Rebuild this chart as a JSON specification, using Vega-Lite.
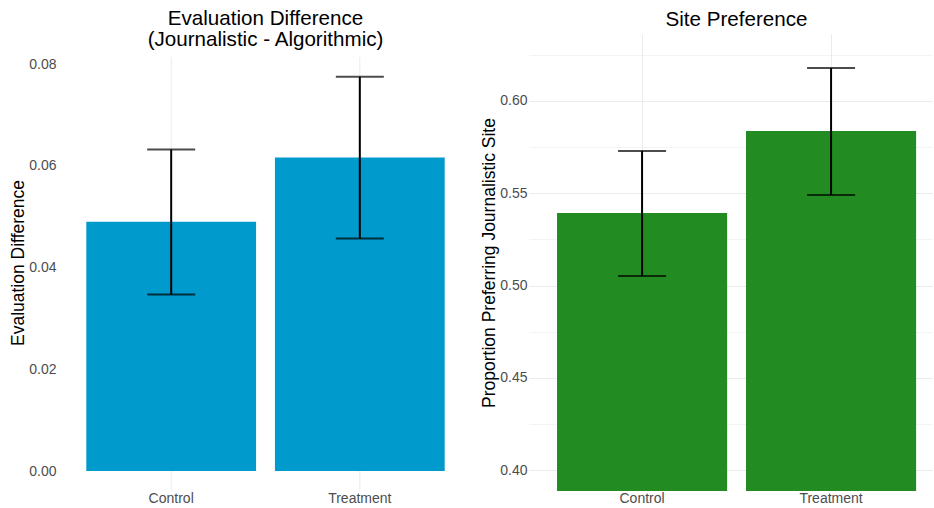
{
  "$schema": "https://vega.github.io/schema/vega-lite/v6.json",
  "padding": {"left": 9, "top": 9, "right": 0, "bottom": 0},
  "spacing": 7,
  "config": {
    "font": "Liberation Sans",
    "view": {"stroke": null},
    "axis": {
      "domain": false,
      "ticks": false,
      "labelFont": "Liberation Sans",
      "titleFont": "Liberation Sans",
      "labelColor": "#4d4d4d",
      "labelFontSize": 14,
      "titleFontSize": 17.5,
      "titleFontWeight": "normal",
      "titleColor": "#000000",
      "gridColor": "#ebebeb",
      "gridWidth": 1
    },
    "title": {"font": "Liberation Sans", "fontSize": 20.6, "fontWeight": "normal", "color": "#000000", "lineHeight": 21}
  },
  "datasets": {
    "evaluation": [
      {"group": "Control", "value": 0.0490, "lo": 0.0347, "hi": 0.0632},
      {"group": "Treatment", "value": 0.0616, "lo": 0.0457, "hi": 0.0775}
    ],
    "preference": [
      {"group": "Control", "value": 0.5393, "lo": 0.5052, "hi": 0.5729},
      {"group": "Treatment", "value": 0.5838, "lo": 0.5491, "hi": 0.6179}
    ]
  },
  "hconcat": [
    {
      "width": 415,
      "height": 457,
      "title": {"text": ["Evaluation Difference", "(Journalistic - Algorithmic)"], "offset": -17},
      "data": {"name": "evaluation"},
      "encoding": {
        "x": {
          "field": "group",
          "type": "nominal",
          "scale": {"paddingInner": 0.1, "paddingOuter": 0.15},
          "axis": {"title": null, "labelAngle": 0, "grid": false, "labelPadding": 0}
        }
      },
      "layer": [
        {
          "description": "vertical panel grid, limited to the panel's own vertical range",
          "mark": {"type": "rule", "color": "#ebebeb", "strokeWidth": 1},
          "encoding": {
            "y": {"datum": -0.003875, "type": "quantitative"},
            "y2": {"datum": 0.081375}
          }
        },
        {
          "mark": {"type": "bar", "color": "#009ACD"},
          "encoding": {
            "y": {
              "field": "value",
              "type": "quantitative",
              "scale": {"domain": [-0.003931, 0.085897], "nice": false, "zero": false},
              "axis": {
                "title": "Evaluation Difference",
                "titlePadding": 1,
                "labelPadding": 2,
                "values": [0, 0.01, 0.02, 0.03, 0.04, 0.05, 0.06, 0.07, 0.08],
                "labelExpr": "round(datum.value * 100) % 2 === 0 ? format(datum.value, '.2f') : ''",
                "gridWidth": {"condition": {"test": "round(datum.value * 100) % 2 === 0", "value": 1}, "value": 0.6}
              }
            }
          }
        },
        {
          "mark": {"type": "rule", "color": "#000000", "strokeWidth": 2},
          "encoding": {
            "y": {"field": "lo", "type": "quantitative"},
            "y2": {"field": "hi"}
          }
        },
        {
          "mark": {"type": "tick", "color": "#000000", "thickness": 2, "size": 48, "orient": "horizontal"},
          "encoding": {"y": {"field": "lo", "type": "quantitative"}}
        },
        {
          "mark": {"type": "tick", "color": "#000000", "thickness": 2, "size": 48, "orient": "horizontal"},
          "encoding": {"y": {"field": "hi", "type": "quantitative"}}
        }
      ]
    },
    {
      "width": 404,
      "height": 457,
      "title": {"text": "Site Preference", "offset": 3, "dx": 5.5},
      "data": {"name": "preference"},
      "encoding": {
        "x": {
          "field": "group",
          "type": "nominal",
          "scale": {"paddingInner": 0.1, "paddingOuter": 0.1188, "align": 0.624},
          "axis": {"title": null, "labelAngle": 0, "grid": true, "bandPosition": 0.5, "labelPadding": 0}
        }
      },
      "layer": [
        {
          "mark": {"type": "bar", "color": "#228B22", "clip": true},
          "encoding": {
            "y": {
              "field": "value",
              "type": "quantitative",
              "scale": {"domain": [0.38879, 0.63628], "nice": false, "zero": false},
              "axis": {
                "title": "Proportion Preferring Journalistic Site",
                "titlePadding": 1,
                "labelPadding": 2,
                "values": [0.4, 0.425, 0.45, 0.475, 0.5, 0.525, 0.55, 0.575, 0.6, 0.625],
                "labelExpr": "round(datum.value * 200) % 2 === 0 ? format(datum.value, '.2f') : ''",
                "gridWidth": {"condition": {"test": "round(datum.value * 200) % 2 === 0", "value": 1}, "value": 0.6}
              }
            },
            "y2": {"datum": 0}
          }
        },
        {
          "mark": {"type": "rule", "color": "#000000", "strokeWidth": 2},
          "encoding": {
            "y": {"field": "lo", "type": "quantitative"},
            "y2": {"field": "hi"}
          }
        },
        {
          "mark": {"type": "tick", "color": "#000000", "thickness": 2, "size": 48, "orient": "horizontal"},
          "encoding": {"y": {"field": "lo", "type": "quantitative"}}
        },
        {
          "mark": {"type": "tick", "color": "#000000", "thickness": 2, "size": 48, "orient": "horizontal"},
          "encoding": {"y": {"field": "hi", "type": "quantitative"}}
        }
      ]
    }
  ]
}
